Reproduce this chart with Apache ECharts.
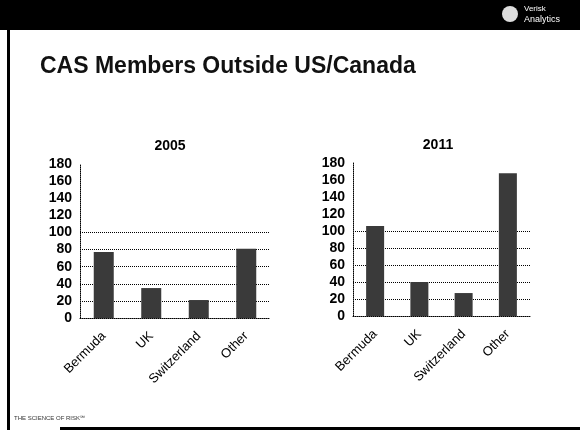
<!DOCTYPE html>
<html><head><meta charset="utf-8">
<script src="https://cdn.jsdelivr.net/npm/echarts@6/dist/echarts.min.js"></script>
<style>html,body{margin:0;padding:0;background:#fff}#c{width:580px;height:430px}</style>
</head><body><div id="c"></div>
<script>
const categories = ['Bermuda', 'UK', 'Switzerland', 'Other'];
const values2005 = [77, 35, 21, 81];
const values2011 = [106, 40, 27, 168];
const yTicks = [0, 20, 40, 60, 80, 100, 120, 140, 160, 180];
const gridValues = [20, 40, 60, 80, 100];
const panelTitles = ['2005', '2011'];

const chart = echarts.init(document.getElementById('c'), null, {renderer: 'canvas'});
const font = "'Liberation Sans', Arial, sans-serif";

function xAxis(i) {
  return {
    type: 'category', gridIndex: i, data: categories,
    axisLine: {lineStyle: {color: '#000', type: 'dotted', width: 1}},
    axisTick: {show: false},
    axisLabel: {rotate: 45, color: '#000', fontSize: 13, fontFamily: font, margin: 16, interval: 0}
  };
}
function yAxis(i) {
  return {
    type: 'value', gridIndex: i, min: yTicks[0], max: yTicks[yTicks.length - 1], interval: yTicks[1] - yTicks[0],
    axisLine: {show: true, lineStyle: {color: '#000', type: 'dotted', width: 1}},
    axisTick: {show: false},
    splitLine: {show: false},
    axisLabel: {color: '#000', fontSize: 14, fontFamily: font, fontWeight: 'bold', margin: 8}
  };
}
function series(i, data, bw) {
  return {
    type: 'bar', xAxisIndex: i, yAxisIndex: i, data: data, barWidth: bw,
    itemStyle: {color: '#3a3a3a'},
    z: 3,
    markLine: {
      silent: true, symbol: 'none', label: {show: false},
      lineStyle: {color: '#000', type: 'dotted', width: 1},
      data: gridValues.map(v => ({yAxis: v})),
      z: 1
    }
  };
}

chart.setOption({
  animation: false,
  title: [
    {text: panelTitles[0], left: 165, top: 134, textAlign: 'center', textStyle: {fontSize: 14, fontWeight: 'bold', fontFamily: font, color: '#000'}},
    {text: panelTitles[1], left: 433, top: 133, textAlign: 'center', textStyle: {fontSize: 14, fontWeight: 'bold', fontFamily: font, color: '#000'}}
  ],
  grid: [
    {left: 80, right: 310, top: 164, bottom: 112},
    {left: 353, right: 50, top: 163, bottom: 114}
  ],
  xAxis: [xAxis(0), xAxis(1)],
  yAxis: [yAxis(0), yAxis(1)],
  series: [series(0, values2005, 20), series(1, values2011, 18)],
  graphic: [
    {type: 'rect', shape: {x: 0, y: 0, width: 580, height: 30}, style: {fill: '#000'}},
    {type: 'rect', shape: {x: 7, y: 20, width: 3, height: 410}, style: {fill: '#000'}},
    {type: 'rect', shape: {x: 60, y: 427, width: 520, height: 3}, style: {fill: '#000'}},
    {type: 'circle', shape: {cx: 510, cy: 14, r: 8}, style: {fill: '#ddd'}},
    {type: 'text', left: 524, top: 5, style: {text: 'Verisk', fill: '#fff', font: "8px 'Liberation Sans', Arial, sans-serif"}},
    {type: 'text', left: 524, top: 15, style: {text: 'Analytics', fill: '#fff', font: "9px 'Liberation Sans', Arial, sans-serif"}},
    {type: 'text', left: 40, top: 55, style: {text: 'CAS Members Outside US/Canada', fill: '#111', font: "bold 23px 'Liberation Sans', Arial, sans-serif"}},
    {type: 'text', left: 14, top: 415, style: {text: 'THE SCIENCE OF RISK℠', fill: '#333', font: "6px 'Liberation Sans', Arial, sans-serif"}}
  ]
});
</script></body></html>
